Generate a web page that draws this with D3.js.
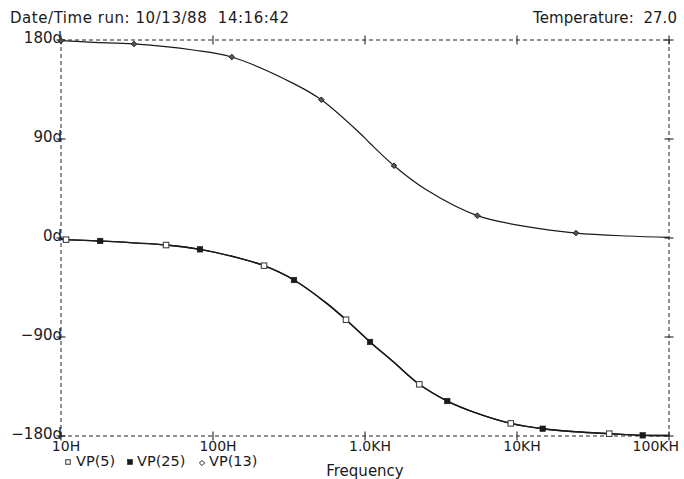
<!DOCTYPE html>
<html>
<head>
<meta charset="utf-8">
<script src="https://cdn.jsdelivr.net/npm/d3@7"></script>
<style>
  body { margin: 0; background: #fff; }
  svg { display: block; }
  text { font-family: "DejaVu Sans", sans-serif; fill: #1a1a1a; white-space: pre; }
</style>
</head>
<body>
<svg id="chart" width="684" height="479"></svg>
<script>
// Axis ticks and labels
const xTickValues = [10, 100, 1000, 10000, 100000];
const xTickLabels = ["10H", "100H", "1.0KH", "10KH", "100KH"];
const yTickValues = [180, 90, 0, -90, -180];
const yTickLabels = ["180d", "90d", "0d", "\u221290d", "\u2212180d"];

// VP(13): phase (degrees) vs frequency (Hz)
const freqVp13 = [10, 16.3, 30.2, 74.1, 133, 337, 516, 927, 1079, 1552, 2547, 5483, 11590, 24430, 52700, 100000];
const phaseVp13 = [179.4, 177.9, 176.4, 170.9, 164.5, 140.6, 125.7, 95.2, 86.1, 65.7, 43.6, 20.3, 10.3, 4.5, 1.8, 0.6];
const markersVp13 = [10, 30.2, 133, 516, 1552, 5483, 24430];

// VP(5) and VP(25) share the same sweep points
const freqLower = [10, 10.8, 18.1, 49.1, 82.1, 150.7, 216.7, 341, 560, 750, 1079, 1535, 2275, 3476, 5483, 9100, 14760, 24430, 40450, 67150, 100000];
const phaseVp5 = [-1.2, -1.5, -2.7, -6.4, -10.3, -18.5, -25.2, -38.2, -59.4, -74.3, -94.5, -112.5, -133.0, -148.2, -159.4, -168.5, -173.4, -176.2, -177.9, -179.4, -179.6];
const phaseVp25 = [-1.2, -1.5, -2.7, -6.4, -10.3, -18.5, -25.2, -38.2, -59.4, -74.3, -94.5, -112.5, -133.0, -148.2, -159.4, -168.5, -173.4, -176.2, -177.9, -179.4, -179.6];
const markersVp5 = [10.8, 49.1, 216.7, 750, 2275, 9100, 40450];
const markersVp25 = [18.1, 82.1, 341, 1079, 3476, 14760, 67150];

const seriesNames = ["VP(5)", "VP(25)", "VP(13)"];
const headerLeft = "Date/Time run: 10/13/88  14:16:42";
const headerRight = "Temperature:  27.0";
const xTitle = "Frequency";

const svg = d3.select("#chart");
const x = d3.scaleLog().domain([10, 100000]).range([61, 669]);
const y = d3.scaleLinear().domain([-180, 180]).range([436, 40]);
const ink = "#1a1a1a";

// Dashed plot frame
const frame = svg.append("g")
  .attr("stroke", "#222").attr("stroke-width", 1).attr("stroke-dasharray", "4,3").attr("fill", "none");
const [x0, x1] = x.range();
const [yb, yt] = y.range();
frame.append("line").attr("x1", x0).attr("x2", x1).attr("y1", yt).attr("y2", yt);
frame.append("line").attr("x1", x0).attr("x2", x1).attr("y1", yb).attr("y2", yb);
frame.append("line").attr("x1", x0).attr("x2", x0).attr("y1", yt).attr("y2", yb);
frame.append("line").attr("x1", x1).attr("x2", x1).attr("y1", yt).attr("y2", yb);

// Cross-shaped tick marks on all four sides
const ticks = svg.append("g").attr("stroke", "#222").attr("stroke-width", 1.1);
xTickValues.forEach(v => {
  [yt, yb].forEach(yy => {
    ticks.append("line").attr("x1", x(v)).attr("x2", x(v)).attr("y1", yy - 4.5).attr("y2", yy + 4.5);
  });
});
yTickValues.forEach(v => {
  [x0, x1].forEach(xx => {
    ticks.append("line").attr("x1", xx - 4.5).attr("x2", xx + 4.5).attr("y1", y(v)).attr("y2", y(v));
  });
});

// Tick labels
svg.append("g").selectAll("text").data(yTickValues).join("text")
  .attr("x", 62).attr("y", d => y(d) + 3)
  .attr("text-anchor", "end").attr("font-size", 15)
  .text((d, i) => yTickLabels[i]);

svg.append("g").selectAll("text").data(xTickValues).join("text")
  .attr("x", (d, i) => i === xTickValues.length - 1 ? 679 : x(d) + 5)
  .attr("y", 451)
  .attr("text-anchor", (d, i) => i === xTickValues.length - 1 ? "end" : "middle")
  .attr("font-size", 14)
  .text((d, i) => xTickLabels[i]);

// Header
svg.append("text").attr("x", 10).attr("y", 23).attr("font-size", 15)
  .attr("textLength", 279).attr("lengthAdjust", "spacing").text(headerLeft);
svg.append("text").attr("x", 533).attr("y", 23).attr("font-size", 15)
  .attr("textLength", 144).attr("lengthAdjust", "spacing").text(headerRight);

// Axis title
svg.append("text").attr("x", 365).attr("y", 476).attr("text-anchor", "middle")
  .attr("font-size", 15).text(xTitle);

// Curves
const line = d3.line().x(d => x(d[0])).y(d => y(d[1])).curve(d3.curveCatmullRom.alpha(0.5));
const zip = (fs, ps) => fs.map((f, i) => [f, ps[i]]);
const valueAt = (fs, ps, f) => ps[fs.indexOf(f)];

const curves = [
  { f: freqLower, p: phaseVp5, w: 1.4 },
  { f: freqLower, p: phaseVp25, w: 1.4 },
  { f: freqVp13, p: phaseVp13, w: 1.2 }
];
svg.append("g").selectAll("path").data(curves).join("path")
  .attr("d", c => line(zip(c.f, c.p)))
  .attr("fill", "none").attr("stroke", ink).attr("stroke-width", c => c.w);

// Marker shapes
function openSquare(g, cx, cy, s) {
  g.append("rect").attr("x", cx - s / 2).attr("y", cy - s / 2).attr("width", s).attr("height", s)
    .attr("fill", "#fff").attr("stroke", "#444").attr("stroke-width", 1.1);
}
function filledSquare(g, cx, cy, s) {
  g.append("rect").attr("x", cx - s / 2).attr("y", cy - s / 2).attr("width", s).attr("height", s)
    .attr("fill", "#1a1a1a").attr("stroke", "#1a1a1a").attr("stroke-width", 0.6);
}
function diamond(g, cx, cy, r, fill) {
  g.append("path")
    .attr("d", `M${cx},${cy - r}L${cx + r},${cy}L${cx},${cy + r}L${cx - r},${cy}Z`)
    .attr("fill", fill).attr("stroke", "#222").attr("stroke-width", 1);
}

const marks = svg.append("g");
markersVp5.forEach(f => openSquare(marks, x(f), y(valueAt(freqLower, phaseVp5, f)), 5.5));
markersVp25.forEach(f => filledSquare(marks, x(f), y(valueAt(freqLower, phaseVp25, f)), 5.5));
markersVp13.forEach(f => diamond(marks, x(f), y(valueAt(freqVp13, phaseVp13, f)), 2.8, "#555"));

// Legend
const legend = svg.append("g");
openSquare(legend, 68, 462, 4.5);
legend.append("text").attr("x", 76).attr("y", 466).attr("font-size", 14.5).text(seriesNames[0]);
filledSquare(legend, 130, 462, 5);
legend.append("text").attr("x", 137).attr("y", 466).attr("font-size", 14.5).text(seriesNames[1]);
diamond(legend, 202, 463, 2.6, "#fff");
legend.append("text").attr("x", 209).attr("y", 466).attr("font-size", 14.5).text(seriesNames[2]);
</script>
</body>
</html>
